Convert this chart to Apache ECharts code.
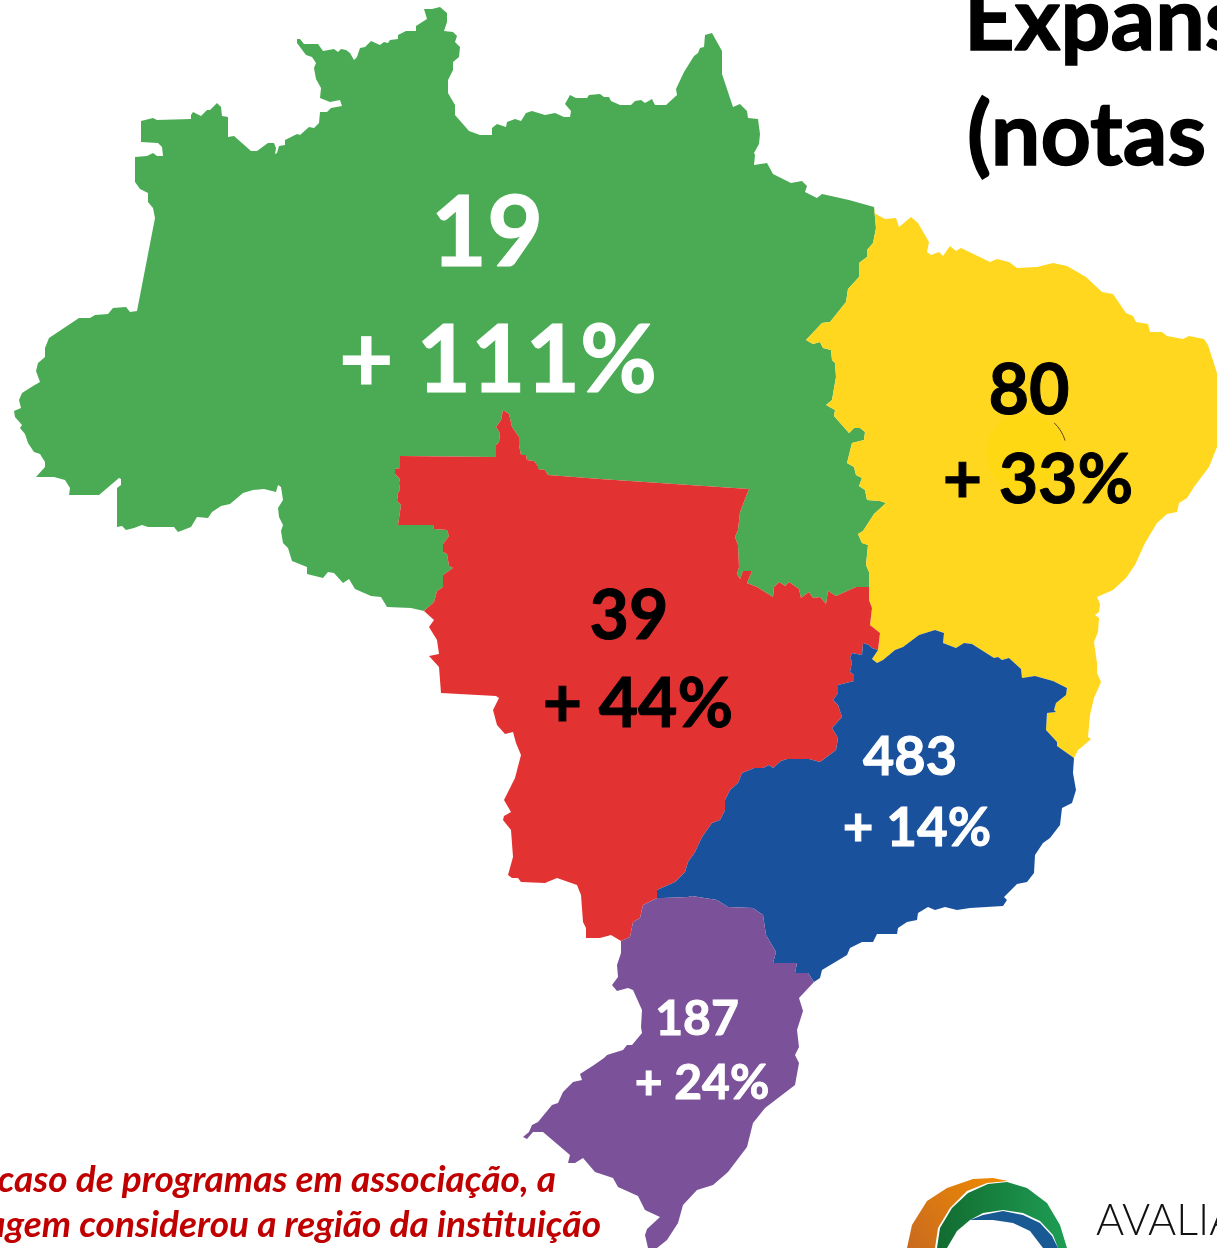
<!DOCTYPE html>
<html>
<head>
<meta charset="utf-8">
<title>Expansão por região</title>
<style>
html,body{margin:0;padding:0;background:#fff;}
#main{width:1217px;height:1248px;}
</style>
<script src="https://cdn.jsdelivr.net/npm/echarts@6/dist/echarts.min.js"></script>
</head>
<body>
<div id="main"></div>
<script>
var regions = ['Norte', 'Nordeste', 'Centro-Oeste', 'Sudeste', 'Sul'];
var programs = [19, 80, 39, 483, 187];
var growth = [111, 33, 44, 14, 24];
var regionColors = ['#4AAB54', '#FFD71F', '#E23232', '#1A519D', '#7B5299'];
var textColors = ['#fff', '#000', '#000', '#fff', '#fff'];
var titleLines = ['Expans', '(notas'];
var noteLines = ['caso de programas em associação, a', 'agem considerou a região da instituição'];
var logoText = 'AVALIA';

// contornos das regioes, coordenadas do mapa (x, y da imagem)
var coastNorth = [[874,207],[849,200],[822,194],[817,198],[805,192],[807,186],[802,181],[791,183],[773,174],[767,163],[754,165],[755,155],[754,153],[759,144],[760,134],[758,119],[748,118],[747,111],[740,104],[733,107],[722,74],[722,51],[712,33],[705,35],[704,47],[700,48],[698,53],[694,56],[684,72],[676,89],[677,95],[666,105],[655,105],[652,99],[645,103],[641,100],[635,101],[631,105],[620,105],[611,101],[609,97],[604,97],[600,94],[589,95],[587,98],[576,98],[570,95],[565,104],[571,111],[570,117],[564,117],[555,113],[545,115],[532,111],[526,113],[521,121],[515,119],[507,122],[506,127],[497,124],[492,128],[492,135],[480,135],[469,131],[455,115],[455,105],[448,93],[448,80],[453,70],[453,62],[459,57],[460,47],[455,42],[457,36],[453,32],[444,31],[447,22],[447,13],[440,7],[432,9],[424,9],[427,19],[416,26],[416,31],[406,31],[398,35],[398,39],[390,40],[388,43],[384,42],[380,45],[371,41],[365,47],[360,48],[357,57],[354,60],[350,53],[346,50],[341,49],[338,52],[334,49],[323,51],[318,44],[304,44],[300,39],[297,39],[297,43],[306,55],[312,57],[316,63],[314,68],[316,79],[321,88],[320,98],[330,102],[340,100],[342,106],[331,108],[327,112],[320,112],[319,123],[314,128],[309,127],[300,135],[297,134],[285,140],[285,145],[279,146],[277,153],[275,154],[276,148],[274,143],[268,143],[257,151],[251,151],[234,136],[228,137],[228,117],[222,116],[221,107],[217,103],[210,110],[207,110],[201,116],[193,112],[191,115],[191,119],[157,120],[153,118],[141,121],[141,142],[158,143],[162,147],[163,156],[157,156],[153,153],[147,156],[135,157],[135,182],[140,189],[148,193],[148,202],[153,208],[155,218],[137,311],[130,312],[126,307],[113,308],[108,314],[95,315],[90,318],[79,318],[49,338],[45,348],[45,357],[38,363],[36,371],[40,382],[33,386],[22,393],[19,400],[21,408],[14,411],[15,417],[22,425],[20,428],[25,434],[28,443],[34,452],[40,454],[45,462],[45,467],[36,477],[54,477],[65,480],[70,488],[69,495],[99,495],[119,478],[121,479],[121,485],[117,488],[117,527],[122,526],[126,530],[134,528],[142,525],[148,527],[174,527],[178,532],[191,527],[197,517],[208,518],[212,512],[221,506],[230,504],[243,493],[253,490],[264,489],[276,492],[278,485],[281,487],[283,500],[278,508],[279,517],[283,525],[281,531],[283,543],[288,548],[292,561],[307,567],[307,574],[323,578],[328,572],[334,573],[343,583],[349,579],[355,589],[371,596],[381,597],[387,607],[411,608],[424,611]];
var borderNorthCentre = [[424,611],[434,602],[437,591],[443,587],[443,575],[453,568],[449,566],[447,554],[443,552],[443,544],[449,536],[447,530],[434,529],[433,525],[398,525],[401,505],[397,501],[398,493],[400,490],[399,483],[400,479],[395,474],[395,469],[400,468],[400,456],[496,457],[496,445],[499,442],[500,433],[496,427],[501,420],[503,410],[509,414],[512,427],[519,437],[519,445],[521,455],[526,455],[527,460],[534,461],[538,466],[538,469],[545,470],[548,475],[600,479],[749,489],[740,512],[738,530],[735,537],[738,545],[739,567],[737,574],[740,579],[743,571],[752,571],[747,583],[757,587],[773,597],[774,587],[779,582],[785,586],[789,582],[799,589],[801,598],[809,592],[813,598],[820,597],[826,604],[828,591],[836,596],[856,587],[869,587]];
var borderNorthEast = [[869,587],[869,572],[866,565],[868,545],[862,543],[858,534],[863,531],[874,514],[886,503],[880,501],[867,500],[865,490],[859,486],[862,478],[856,475],[854,467],[847,463],[852,443],[864,440],[865,432],[860,428],[854,428],[849,433],[834,416],[835,410],[826,405],[832,400],[836,377],[835,363],[832,360],[831,350],[823,348],[820,342],[813,344],[806,340],[822,323],[830,322],[846,302],[848,289],[859,277],[859,263],[867,257],[867,250],[873,243],[876,228],[874,207]];
var coastNortheast = [[874,213],[885,219],[896,218],[899,227],[911,217],[918,223],[929,242],[927,252],[931,255],[939,252],[943,256],[950,246],[956,251],[961,248],[990,262],[997,259],[1009,262],[1017,268],[1037,267],[1053,263],[1067,266],[1086,277],[1102,292],[1113,294],[1126,313],[1133,316],[1136,322],[1148,324],[1150,332],[1162,332],[1167,336],[1183,339],[1189,336],[1204,339],[1208,345],[1217,373],[1217,447],[1209,467],[1194,487],[1187,498],[1179,503],[1177,512],[1167,514],[1157,523],[1145,543],[1135,565],[1126,578],[1113,590],[1097,597],[1100,604],[1099,612],[1095,615],[1099,618],[1098,632],[1094,642],[1097,663],[1097,673],[1101,682],[1094,698],[1090,715],[1088,737],[1091,739],[1082,747],[1078,750],[1074,758]];
var borderEastSoutheast = [[1074,758],[1057,746],[1057,742],[1046,730],[1047,713],[1056,712],[1054,710],[1056,703],[1066,695],[1067,688],[1053,681],[1035,676],[1022,678],[1021,669],[1009,658],[1002,660],[998,657],[994,658],[972,644],[964,643],[956,648],[943,643],[944,633],[935,630],[919,635],[903,647],[895,650],[883,660],[877,663],[872,659],[878,650]];
var borderEastCentre = [[869,587],[869,600],[872,608],[870,625],[880,633],[878,650]];
var coastCentre = [[424,611],[434,620],[429,627],[437,640],[439,654],[429,656],[439,667],[441,693],[496,696],[499,698],[493,710],[497,725],[505,734],[513,732],[516,743],[521,755],[515,778],[504,800],[511,812],[504,816],[503,820],[511,830],[513,857],[508,875],[512,878],[518,878],[521,882],[545,883],[557,878],[577,885],[581,895],[583,922],[586,928],[586,938],[600,938],[611,935],[621,941]];
var borderCentreSouth = [[621,941],[630,937],[633,922],[640,918],[643,905],[657,898]];
var borderSoutheastCentre = [[878,650],[872,648],[869,645],[863,643],[862,655],[852,653],[850,658],[852,662],[850,672],[854,675],[854,681],[838,685],[838,693],[833,700],[838,705],[842,717],[832,728],[838,738],[836,750],[820,762],[809,759],[787,759],[781,761],[773,768],[769,765],[763,768],[754,768],[752,769],[742,773],[738,783],[730,790],[725,800],[725,810],[720,820],[712,823],[702,837],[695,852],[688,862],[685,872],[675,882],[657,890],[657,898]];
var borderSouthSoutheast = [[657,898],[663,898],[688,897],[692,896],[717,900],[728,907],[753,908],[763,915],[766,935],[776,952],[773,963],[797,963],[795,973],[808,973],[814,982]];
var coastSoutheast = [[814,982],[820,978],[822,970],[847,955],[850,948],[862,942],[873,942],[877,934],[897,934],[898,928],[907,922],[917,920],[918,913],[928,907],[935,910],[945,907],[957,910],[970,908],[1003,906],[1007,900],[1004,897],[1017,884],[1027,882],[1034,873],[1035,855],[1043,843],[1050,838],[1060,825],[1062,808],[1072,803],[1076,790],[1073,773],[1074,758]];
var coastSouth = [[621,941],[621,953],[617,965],[618,977],[612,985],[617,991],[628,988],[633,990],[642,1010],[641,1027],[642,1033],[632,1045],[627,1045],[623,1050],[607,1055],[604,1058],[594,1065],[580,1074],[582,1080],[573,1082],[563,1092],[558,1103],[552,1105],[538,1122],[532,1125],[529,1132],[523,1137],[527,1139],[533,1132],[543,1132],[570,1155],[568,1163],[575,1163],[583,1158],[595,1172],[613,1178],[618,1187],[638,1196],[645,1210],[660,1217],[647,1229],[645,1235],[648,1248],[657,1248],[667,1240],[678,1223],[683,1205],[697,1190],[713,1185],[728,1172],[747,1147],[753,1123],[765,1108],[795,1085],[799,1063],[795,1055],[799,1047],[797,1030],[803,1011],[799,998],[814,982]];

// posicao dos rotulos no mapa
var programLabelAt = [[487,235],[1029,391],[629,617],[910,758],[697,1020]];
var growthLabelAt = [[498,362],[1038,481],[638,705],[917,829],[702,1084]];
var programFont = [97, 70, 68, 54, 48];
var growthFont = [94, 68, 68, 53, 48];

// logo
var logoOrange = [[907,1248],[912,1225],[927,1201],[947,1188],[973,1179],[993,1178],[1008,1181],[987,1183],[967,1191],[950,1208],[938,1228],[935,1248]];
var logoGreen = [[937,1248],[940,1228],[952,1208],[968,1193],[988,1184],[1007,1182],[1027,1188],[1047,1203],[1060,1225],[1067,1248],[1058,1248],[1053,1235],[1040,1221],[1023,1213],[1003,1210],[983,1213],[970,1220],[957,1231],[947,1248]];
var logoBlue = [[970,1220],[983,1215],[1003,1211],[1023,1215],[1040,1223],[1052,1236],[1058,1248],[1043,1248],[1030,1231],[1013,1223],[993,1220],[980,1220]];

function rev(a) { return a.slice().reverse(); }
function toGeo(ring) {
    return ring.map(function (p) { return [p[0], -p[1]]; });
}

var rings = [
    coastNorth.concat(borderNorthCentre, borderNorthEast),
    coastNortheast.concat(borderEastSoutheast, rev(borderEastCentre), borderNorthEast),
    coastCentre.concat(borderCentreSouth, rev(borderSoutheastCentre), rev(borderEastCentre), rev(borderNorthCentre)),
    borderSoutheastCentre.concat(borderSouthSoutheast, coastSoutheast, borderEastSoutheast),
    coastSouth.concat(rev(borderSouthSoutheast), rev(borderCentreSouth))
];

var brasil = {
    type: 'FeatureCollection',
    features: regions.map(function (name, i) {
        return {
            type: 'Feature',
            properties: {name: name},
            geometry: {type: 'Polygon', coordinates: [toGeo(rings[i])]}
        };
    })
};
echarts.registerMap('brasil', brasil);

function labelSeries(name, at, fonts, fmt, values) {
    return {
        name: name,
        type: 'scatter',
        coordinateSystem: 'geo',
        geoIndex: 0,
        symbolSize: 0,
        silent: true,
        animation: false,
        itemStyle: {opacity: 1},
        data: values.map(function (v, i) {
            return {
                name: regions[i],
                value: [at[i][0], -at[i][1], v],
                label: {
                    show: true,
                    position: 'inside',
                    formatter: fmt(v),
                    color: textColors[i],
                    fontSize: fonts[i],
                    fontWeight: 700,
                    fontFamily: 'Lato',
                    textBorderColor: textColors[i],
                    textBorderWidth: 1
                }
            };
        })
    };
}

function bodyText(text, x, y, size, color, align, extra, thick) {
    var style = {
        text: text,
        x: x,
        y: y,
        fill: color,
        stroke: color,
        lineWidth: thick,
        font: (extra || 'bold') + ' ' + size + 'px Lato',
        textAlign: align,
        textVerticalAlign: 'bottom'
    };
    return {type: 'text', z: 5, silent: true, style: style};
}

function logoShape(points, fill) {
    return {
        type: 'polygon',
        z: 5,
        silent: true,
        shape: {points: points},
        style: {fill: fill}
    };
}

var myChart = echarts.init(document.getElementById('main'));
myChart.setOption({
    backgroundColor: '#fff',
    animation: false,
    geo: {
        map: 'brasil',
        roam: false,
        silent: true,
        aspectScale: 1,
        boundingCoords: [[0, 0], [1217, -1248]],
        layoutCenter: ['50%', '50%'],
        layoutSize: 1248,
        label: {show: false},
        itemStyle: {borderWidth: 0},
        regions: regions.map(function (name, i) {
            return {name: name, itemStyle: {areaColor: regionColors[i], borderWidth: 0}};
        })
    },
    series: [
        labelSeries('Programas', programLabelAt, programFont, function (v) { return String(v); }, programs),
        labelSeries('Crescimento', growthLabelAt, growthFont, function (v) { return '+ ' + v + '%'; }, growth)
    ],
    graphic: [
        {type: 'circle', z: 1, silent: true, shape: {cx: 1025, cy: 453, r: 39}, style: {fill: '#FFD814'}},
        {type: 'arc', z: 1, silent: true, shape: {cx: 1025, cy: 453, r: 42, startAngle: -0.8, endAngle: -0.3}, style: {stroke: '#5a4a10', lineWidth: 1, fill: null}},
        bodyText(titleLines[0], 964, 66, 88, '#000', 'left', 'bold', 1.5),
        bodyText(titleLines[1], 967, 181, 88, '#000', 'left', 'bold', 1.5),
        bodyText(noteLines[0], 556, 1199, 37, '#C00000', 'right', 'italic bold', 0),
        bodyText(noteLines[1], 601, 1244, 37, '#C00000', 'right', 'italic bold', 0),
        logoShape(logoOrange, {type: 'linear', x: 0, y: 1, x2: 1, y2: 0, colorStops: [{offset: 0, color: '#C96A20'}, {offset: 1, color: '#F08C00'}]}),
        logoShape(logoGreen, {type: 'linear', x: 0, y: 0, x2: 1, y2: 0, colorStops: [{offset: 0, color: '#126B30'}, {offset: 1, color: '#1E9E55'}]}),
        logoShape(logoBlue, '#1A5A94'),
        {type: 'text', z: 5, silent: true, style: {text: logoText, x: 1096, y: 1243, fill: '#111', font: '300 43px Lato', textAlign: 'left', textVerticalAlign: 'bottom'}}
    ]
});
</script>
</body>
</html>
